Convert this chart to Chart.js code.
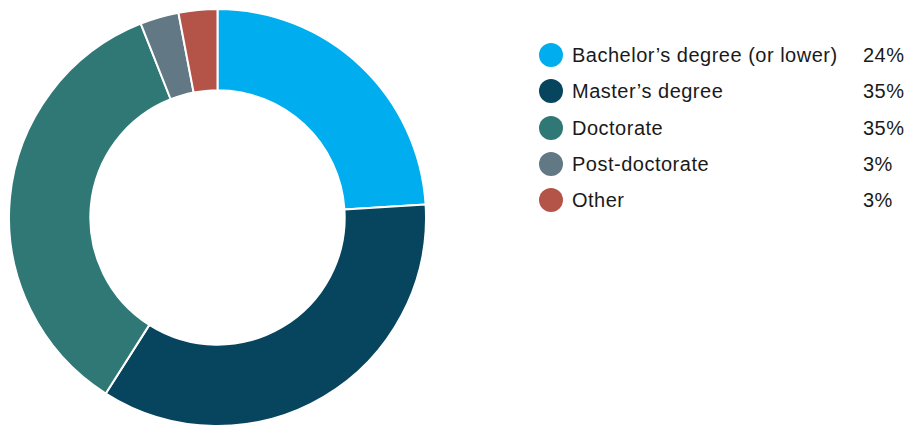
<!DOCTYPE html>
<html>
<head>
<meta charset="utf-8">
<script src="https://cdn.jsdelivr.net/npm/chart.js@4.4.0/dist/chart.umd.min.js"></script>
<style>
  html, body { margin: 0; padding: 0; background: #fff; overflow: hidden; }
  #wrap { position: relative; width: 912px; height: 428px; }
  #donut { position: absolute; left: 8px; top: 8px; width: 419px; height: 419px; }
  #legend { position: absolute; left: 539px; top: 37px; font-family: "Liberation Sans", Arial, sans-serif; font-size: 20px; color: #1a1a1a; letter-spacing: 0.5px; }
  .row { position: relative; height: 36.3px; line-height: 36px; }
  .dot { position: absolute; left: 0; top: 6px; width: 24px; height: 24px; border-radius: 50%; }
  .name { position: absolute; left: 33px; top: 0; white-space: nowrap; }
  .pct { position: absolute; left: 324px; top: 0; }
</style>
</head>
<body>
<div id="wrap">
  <div id="donut"><canvas id="degreeChart"></canvas></div>
  <div id="legend"></div>
</div>
<script>
var labels = ['Bachelor\u2019s degree (or lower)', 'Master\u2019s degree', 'Doctorate', 'Post-doctorate', 'Other'];
var shares = [24, 35, 35, 3, 3];
var colors = ['#00aeef', '#07445e', '#2f7875', '#627884', '#b45448'];

var ctx = document.getElementById('degreeChart').getContext('2d');
var degreeChart = new Chart(ctx, {
    type: 'doughnut',
    data: {
        labels: labels,
        datasets: [{
            data: shares,
            backgroundColor: colors,
            borderColor: '#ffffff',
            borderWidth: 2
        }]
    },
    options: {
        responsive: true,
        maintainAspectRatio: false,
        animation: false,
        cutout: '61%',
        layout: { padding: 0 },
        plugins: {
            legend: { display: false },
            tooltip: { enabled: false }
        }
    }
});

// legend rows built from the same arrays
var legend = document.getElementById('legend');
labels.forEach(function(label, i) {
    var row = document.createElement('div');
    row.className = 'row';
    row.innerHTML = '<span class="dot" style="background:' + colors[i] + '"></span>' +
        '<span class="name">' + label + '</span>' +
        '<span class="pct">' + shares[i] + '%</span>';
    legend.appendChild(row);
});
</script>
</body>
</html>
